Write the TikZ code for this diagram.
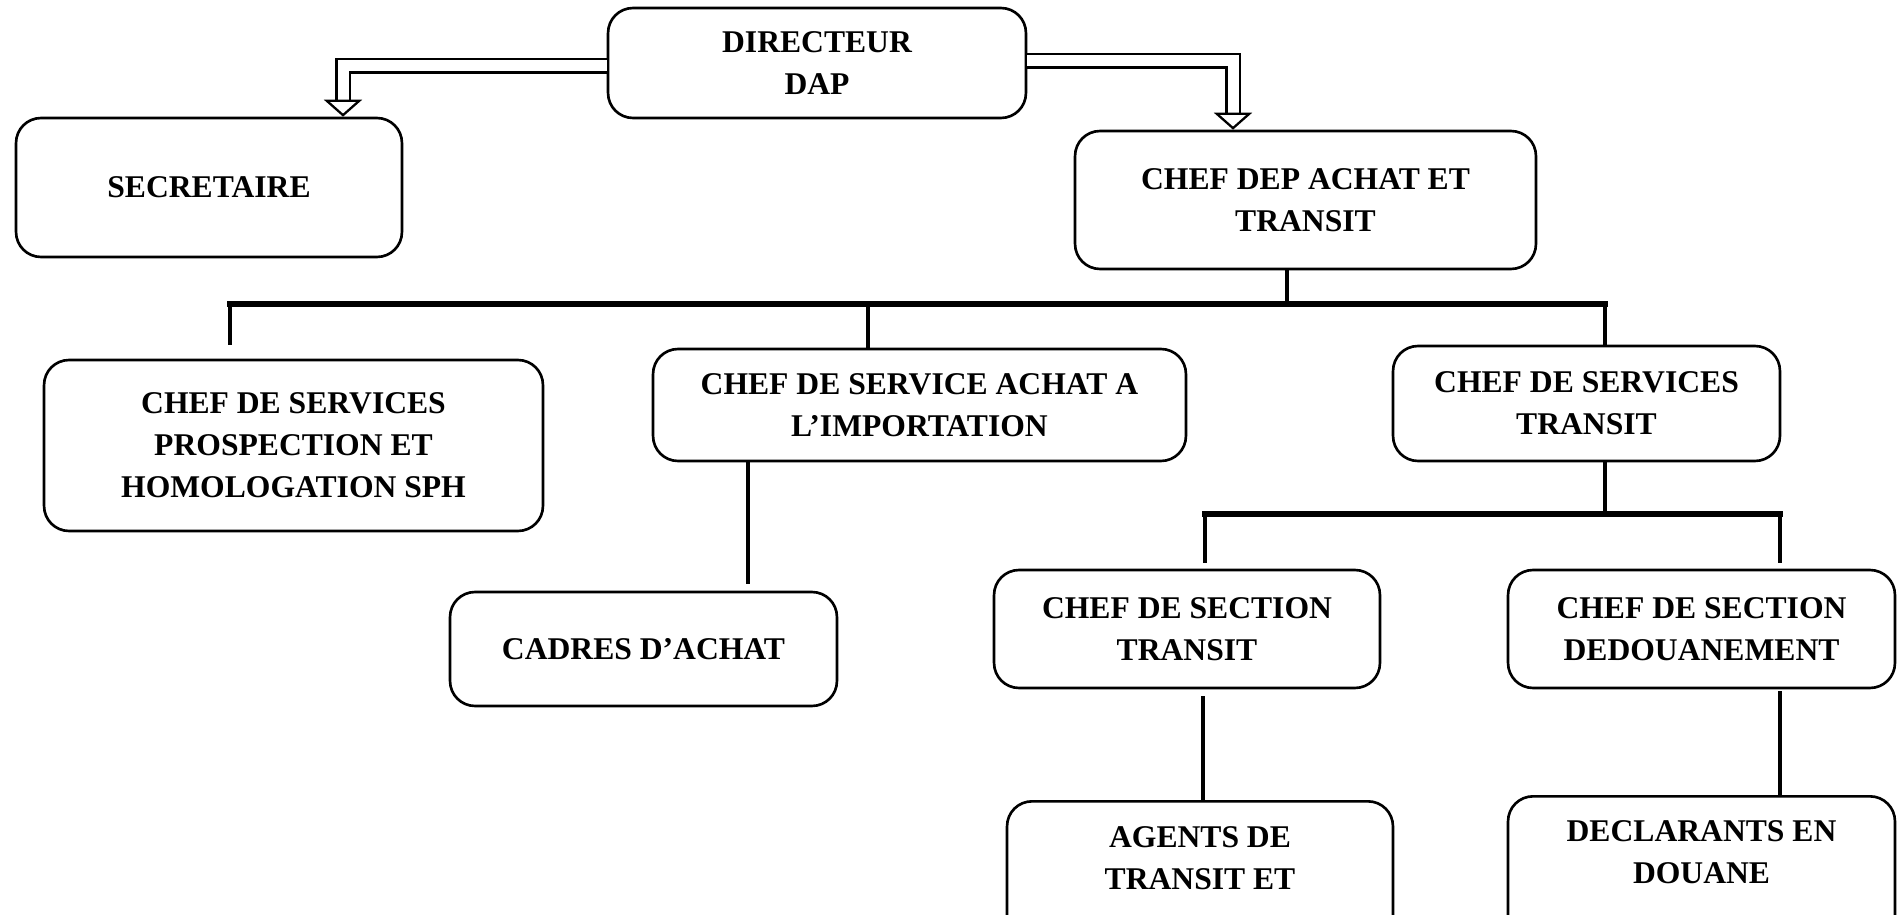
\documentclass[tikz,border=0pt]{standalone}
\usepackage{fontspec}
\setmainfont{Liberation Serif}
\usepackage{tikz}
\usetikzlibrary{shapes,arrows,arrows.meta,positioning}
\tikzstyle{block} = [rectangle, draw, line width=1.5pt, fill=white, 
    align=center, rounded corners=0.5cm, font=\bfseries\fontsize{18}{24}\selectfont]
\tikzstyle{cutblock} = [block, anchor=north, text depth=2.2cm, inner ysep=0.5cm]
\tikzstyle{line} = [draw, line width=2.6pt]
\tikzstyle{bus} = [draw, line width=3.4pt, line cap=rect]
\tikzstyle{dline} = [draw, double, line width=1.3pt, double distance=0.22cm,
    -{Triangle[open, width=0.76cm, length=0.34cm, line width=1.3pt]}]

\begin{document}
\begin{tikzpicture}[x=0.02cm, y=-0.02cm]
    \path [use as bounding box, clip] (0,0) rectangle (1902,915);
    % Place nodes
    \node [block, minimum width=8.36cm, minimum height=2.2cm] (dir) at (817,63) {DIRECTEUR\\DAP};
    \node [block, minimum width=7.72cm, minimum height=2.78cm] (sec) at (209,187.5) {SECRETAIRE};
    \node [block, minimum width=9.22cm, minimum height=2.76cm] (chefdep) at (1305.5,200) {CHEF DEP ACHAT ET\\TRANSIT};
    \node [block, minimum width=9.98cm, minimum height=3.42cm] (sph) at (293.5,445.5) {CHEF DE SERVICES\\PROSPECTION ET\\HOMOLOGATION SPH};
    \node [block, minimum width=10.66cm, minimum height=2.24cm] (achat) at (919.5,405) {CHEF DE SERVICE ACHAT A\\L'IMPORTATION};
    \node [block, minimum width=7.74cm, minimum height=2.3cm] (transit) at (1586.5,403.5) {CHEF DE SERVICES\\TRANSIT};
    \node [block, minimum width=7.74cm, minimum height=2.28cm] (cadres) at (643.5,649) {CADRES D'ACHAT};
    \node [block, minimum width=7.72cm, minimum height=2.36cm] (sectr) at (1187,629) {CHEF DE SECTION\\TRANSIT};
    \node [block, minimum width=7.74cm, minimum height=2.36cm] (secdou) at (1701.5,629) {CHEF DE SECTION\\DEDOUANEMENT};
    \node [cutblock, minimum width=7.72cm] (agents) at (1200,800) {AGENTS DE\\TRANSIT ET};
    \node [cutblock, minimum width=7.74cm, inner ysep=0.48cm] (decl) at (1701.5,795) {DECLARANTS EN\\DOUANE};
    % Junctions
    \coordinate (bus1l) at (230,304);
    \coordinate (bus1r) at (1605,304);
    \coordinate (bus1m) at (1287,304);
    \coordinate (bus1a) at (868,304);
    \coordinate (bus2l) at (1205,514);
    \coordinate (bus2r) at (1780,514);
    \coordinate (bus2m) at (1605,514);
    \coordinate (la) at (343,0);
    \coordinate (ra) at (1233,0);
    \coordinate (cad) at (748,0);
    \coordinate (agt) at (1203,0);
    \coordinate (dcl) at (1780,0);
    % Draw edges
    \path [dline] ([yshift=-0.06cm]dir.west) -| (sec.north -| la);
    \path [dline] ([yshift=0.04cm]dir.east) -| (chefdep.north -| ra);
    \path [line] (chefdep.south -| bus1m) -- (bus1m);
    \path [line, shorten >=0.28cm] (bus1l) -- (sph.north -| bus1l);
    \path [line] (bus1a) -- (achat.north -| bus1a);
    \path [line] (bus1r) -- (transit.north -| bus1r);
    \path [bus] (bus1l) -- (bus1r);
    \path [line, shorten >=0.14cm] (achat.south -| cad) -- (cadres.north -| cad);
    \path [line] (transit.south -| bus2m) -- (bus2m);
    \path [line, shorten >=0.12cm] (bus2l) -- (sectr.north -| bus2l);
    \path [line, shorten >=0.12cm] (bus2r) -- (secdou.north -| bus2r);
    \path [bus] (bus2l) -- (bus2r);
    \path [line, shorten <=0.14cm] (sectr.south -| agt) -- (agents.north -| agt);
    \path [line, shorten <=0.04cm] (secdou.south -| dcl) -- (decl.north -| dcl);
\end{tikzpicture}
\end{document}
